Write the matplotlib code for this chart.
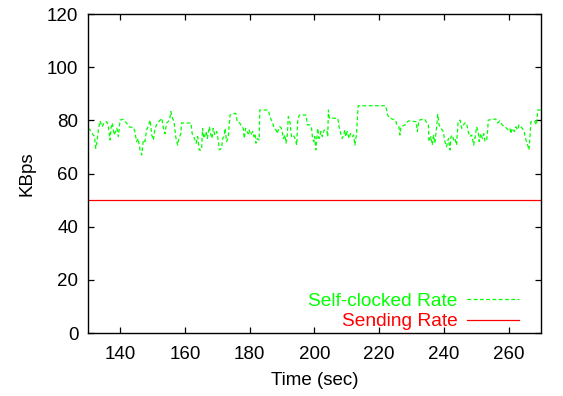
import matplotlib
matplotlib.use("Agg")
import matplotlib.pyplot as plt

# self-clocked rate (time in sec, rate in KBps)
t_self = [130.1, 130.6, 131.3, 132.0, 132.4, 132.8, 133.2, 133.7, 134.4, 135.0,
          135.8, 136.3, 136.8, 137.1, 137.5, 138.1, 138.9, 139.4, 139.9, 140.9,
          141.9, 143.0, 144.0, 144.5, 145.0, 145.5, 146.1, 146.6, 147.1, 147.6,
          148.1, 148.6, 149.2, 149.7, 150.2, 150.7, 151.2, 151.9, 152.8, 153.3,
          153.8, 154.3, 154.8, 155.3, 155.6, 156.1, 156.6, 157.1, 157.7, 158.1,
          158.7, 158.9, 160.0, 161.8, 162.2, 162.9, 163.4, 163.9, 164.4,
          165.1, 165.4, 165.8, 166.5, 166.9, 167.5, 167.9, 168.3, 168.7, 169.2,
          169.8, 170.3, 170.6, 171.3, 171.6, 172.0, 172.4, 172.8, 173.3, 173.9,
          174.9, 175.7, 176.1, 176.9, 177.5, 178.0, 178.3, 178.7, 179.2, 179.5,
          179.8, 180.3, 180.9, 181.3, 181.6, 181.9, 182.3, 182.9, 183.1, 185.7,
          186.4, 187.1, 187.5, 188.1, 188.5, 188.9, 189.3, 189.8, 190.4, 190.9,
          191.2, 191.6, 191.9, 192.4, 192.9, 193.4, 194.0, 194.5, 194.8, 195.3,
          197.4, 197.8, 198.6, 199.1, 199.4, 199.8, 200.1, 200.4,
          201.0, 201.4, 202.0, 202.4, 203.0, 203.8, 204.1, 204.3, 204.6, 207.2,
          207.6, 208.2, 208.6, 209.0, 209.4, 209.7, 210.1, 210.7, 211.1, 211.7,
          212.1, 212.5, 213.0, 213.5, 222.0, 222.6, 223.3, 225.1, 225.4, 226.1,
          226.4, 226.7, 228.0, 229.0, 231.4, 231.8, 232.3, 234.1, 234.7, 235.2,
          235.4, 236.0, 236.4, 236.8, 237.2, 237.7, 238.1, 238.5, 239.1, 239.8,
          240.3, 240.8, 241.4, 241.9, 242.2, 242.6, 243.0, 243.4, 243.9, 244.4,
          245.0, 245.5, 246.0, 246.5, 247.0, 247.5, 248.0, 248.6, 249.2, 249.6,
          250.1, 250.6, 250.9, 251.4, 251.9, 252.3, 252.7, 253.2, 253.5, 253.7,
          256.0, 256.6, 257.3, 258.0, 258.9, 259.4, 259.9, 260.4, 260.7, 261.1,
          261.8, 262.2, 262.8, 263.2, 263.8, 264.2, 264.8, 265.2, 265.7, 266.3,
          266.9, 267.6, 268.1, 268.6, 269.0, 270.0]
v_self = [77.0, 76.4, 75.0, 74.0, 69.5, 72.0, 76.4, 79.8, 77.6, 79.3,
          79.5, 77.6, 72.6, 77.0, 79.0, 74.5, 77.0, 73.9, 80.1, 80.4,
          79.0, 77.4, 77.4, 75.8, 72.0, 73.2, 68.8, 67.0, 72.6, 72.0,
          76.4, 77.6, 80.1, 74.5, 72.6, 77.0, 78.3, 79.5, 80.8, 77.0,
          75.0, 79.0, 79.5, 80.8, 83.3, 80.8, 79.5, 73.9, 70.7, 73.2,
          75.0, 79.0, 79.0, 79.0, 75.0, 73.2, 71.4, 73.9, 68.8,
          68.9, 77.0, 73.2, 75.8, 73.2, 77.6, 75.0, 73.2, 77.0, 74.5,
          75.8, 72.0, 68.9, 69.5, 73.2, 73.9, 77.0, 72.0, 73.2, 82.0,
          82.6, 82.6, 79.5, 79.0, 77.6, 77.0, 73.2, 77.0, 75.8, 75.0,
          76.4, 74.5, 75.8, 73.9, 75.0, 71.4, 73.2, 72.6, 83.9, 83.9,
          80.8, 79.0, 77.0, 76.4, 75.0, 77.0, 77.6, 77.0, 73.2, 74.5,
          71.4, 74.5, 81.4, 79.5, 73.9, 74.5, 73.2, 70.7, 79.5, 82.0,
          82.0, 78.3, 78.3, 77.0, 73.2, 72.0, 73.9, 68.9,
          77.0, 73.2, 75.8, 73.9, 76.4, 76.4, 73.9, 83.9, 80.8, 80.8,
          77.6, 74.5, 73.2, 74.5, 76.4, 73.9, 75.8, 73.2, 75.0, 73.9,
          74.5, 70.7, 75.0, 85.5, 85.5, 82.0, 80.8, 80.1, 78.3, 77.6,
          74.5, 77.6, 78.3, 79.8, 79.5, 75.8, 80.1, 80.5, 79.0, 78.3,
          72.0, 73.9, 70.7, 74.5, 71.4, 77.0, 82.3, 78.3, 77.0, 75.8,
          72.0, 70.1, 73.2, 68.9, 73.9, 74.5, 72.6, 73.2, 70.7, 79.5,
          80.1, 77.0, 78.3, 79.0, 79.0, 75.8, 73.9, 74.5, 70.7, 73.2,
          77.6, 75.8, 72.0, 75.0, 73.2, 75.0, 72.0, 72.6, 75.8, 80.1,
          80.5, 79.0, 79.8, 78.3, 77.6, 77.0, 76.4, 77.0, 75.0, 77.0,
          75.8, 77.6, 76.4, 78.3, 77.6, 77.0, 75.8, 73.2, 71.4, 68.9,
          79.5, 79.8, 79.5, 78.3, 83.9, 83.9]

t_send = [130, 270]
v_send = [50, 50]

plt.rcParams['font.family'] = ['Liberation Sans', 'DejaVu Sans']

fig = plt.figure(figsize=(5.63, 3.96), dpi=100)
ax = fig.add_axes([0.1563, 0.159, 0.8046, 0.8056])

ax.plot(t_self, v_self, color="#00ff00", lw=0.9, ls=(0, (3, 2)), label="Self-clocked Rate")
ax.plot(t_send, v_send, color="#ff0000", lw=0.9, label="Sending Rate")

ax.set_xlim(130, 270)
ax.set_ylim(0, 120)
ax.set_xticks([140, 160, 180, 200, 220, 240, 260])
ax.set_yticks([0, 20, 40, 60, 80, 100, 120])
ax.tick_params(direction="in", top=True, right=True, length=4, width=0.9,
               labelsize=13.5)
ax.tick_params(axis="x", pad=9)
ax.tick_params(axis="y", pad=7)
for s in ax.spines.values():
    s.set_linewidth(1.0)

ax.set_xlabel("Time (sec)", fontsize=13.5, labelpad=7)
ax.set_ylabel("KBps", fontsize=13.5, labelpad=8)

leg = ax.legend(loc="lower right", bbox_to_anchor=(0.951, 0.008), frameon=False,
                fontsize=13.8, markerfirst=False, handlelength=2.7,
                labelspacing=0.15, borderpad=0, borderaxespad=0,
                handletextpad=0.5)
for txt, line in zip(leg.get_texts(), leg.get_lines()):
    txt.set_color(line.get_color())

fig.savefig("out.png", dpi=100)
